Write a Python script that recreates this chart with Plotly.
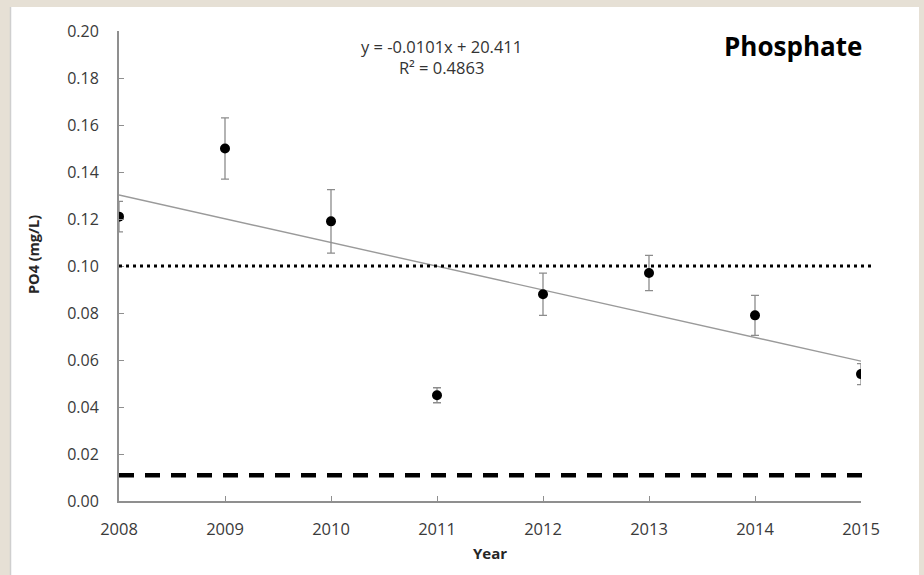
import plotly.graph_objects as go

years = [2008, 2009, 2010, 2011, 2012, 2013, 2014, 2015]
po4 = [0.121, 0.150, 0.119, 0.045, 0.088, 0.097, 0.079, 0.054]
po4_err = [0.0065, 0.013, 0.0135, 0.0032, 0.009, 0.0075, 0.0085, 0.0045]
slope = -0.0101
intercept = 20.411
r2 = 0.4863
guideline_upper = 0.10
guideline_lower = 0.011
y_ticks = [0.00, 0.02, 0.04, 0.06, 0.08, 0.10, 0.12, 0.14, 0.16, 0.18, 0.20]

FONT = "Open Sans"
AXIS_GRAY = "#8f8f8f"

trend_x = [years[0], years[-1]]
trend_y = [slope * x + intercept for x in trend_x]

fig = go.Figure()
fig.add_trace(go.Scatter(x=trend_x, y=trend_y, mode="lines",
                         line=dict(color="#9a9a9a", width=1.4), hoverinfo="skip"))
fig.add_trace(go.Scatter(
    x=years, y=po4, mode="markers",
    marker=dict(color="black", size=10),
    error_y=dict(type="data", array=po4_err, visible=True,
                 color="#8c8c8c", thickness=1.3, width=4),
))

W, H = 924, 575
ml, mr, mt, mb = 119, 63, 31, 74
pw, ph = W - ml - mr, H - mt - mb

def px_x(p):
    return (p - ml) / pw

def px_y(p):
    return (H - mb - p) / ph

shapes = [
    dict(type="rect", xref="paper", yref="paper", layer="below",
         x0=px_x(10), x1=px_x(919), y0=px_y(7), y1=px_y(H + 5),
         fillcolor="white", line=dict(width=0)),
    dict(type="line", xref="paper", yref="paper", layer="below",
         x0=px_x(10.5), x1=px_x(10.5), y0=px_y(7), y1=px_y(H + 5),
         line=dict(color="#cfcfcf", width=1.5)),
    dict(type="line", xref="paper", yref="y", x0=0, x1=px_x(873),
         y0=guideline_upper, y1=guideline_upper,
         line=dict(color="black", width=3, dash="3px,4px")),
    dict(type="line", xref="paper", yref="y", x0=0, x1=px_x(873),
         y0=guideline_lower, y1=guideline_lower,
         line=dict(color="black", width=4.5, dash="15px,11px")),
]

common = dict(xref="paper", yref="paper", showarrow=False,
              xanchor="center", yanchor="middle")
annotations = [
    dict(common, x=px_x(441), y=px_y(57),
         text=f"y = {slope}x + {intercept}<br>R² = {r2}",
         font=dict(family=FONT, size=16.5, color="#333333"), align="center"),
    dict(common, x=px_x(793), y=px_y(46),
         text="<b>Phosphate</b>",
         font=dict(family=FONT, size=26, color="black")),
    dict(common, x=px_x(490), y=px_y(553),
         text="<b>Year</b>",
         font=dict(family=FONT, size=15, color="#262626")),
    dict(common, x=px_x(33), y=px_y(255),
         text="<b>PO4 (mg/L)</b>", textangle=-90,
         font=dict(family=FONT, size=14.5, color="#262626")),
]

fig.update_layout(
    width=W, height=H,
    margin=dict(l=ml, r=mr, t=mt, b=mb),
    paper_bgcolor="#e6e0d5",
    plot_bgcolor="white",
    showlegend=False,
    shapes=shapes,
    annotations=annotations,
    font=dict(family=FONT, size=16, color="#3a3a3a"),
)
fig.update_xaxes(range=[years[0], years[-1]], tickvals=years,
                 ticktext=[str(y) for y in years],
                 showgrid=False, zeroline=False, showline=True,
                 linecolor=AXIS_GRAY, linewidth=2,
                 ticks="inside", ticklen=5, tickcolor=AXIS_GRAY, tickwidth=1.2,
                 ticklabelstandoff=12, tickfont=dict(size=16.5))
fig.update_yaxes(range=[y_ticks[0], y_ticks[-1]], tickvals=y_ticks,
                 ticktext=[f"{v:.2f}" for v in y_ticks],
                 showgrid=False, zeroline=False, showline=True,
                 linecolor=AXIS_GRAY, linewidth=2,
                 ticks="inside", ticklen=5, tickcolor=AXIS_GRAY, tickwidth=1.2,
                 ticklabelstandoff=15, tickfont=dict(size=16))

fig.write_html("out.html", config={"displayModeBar": False},
               post_script="document.body.style.margin='0';document.body.style.overflow='hidden';")
